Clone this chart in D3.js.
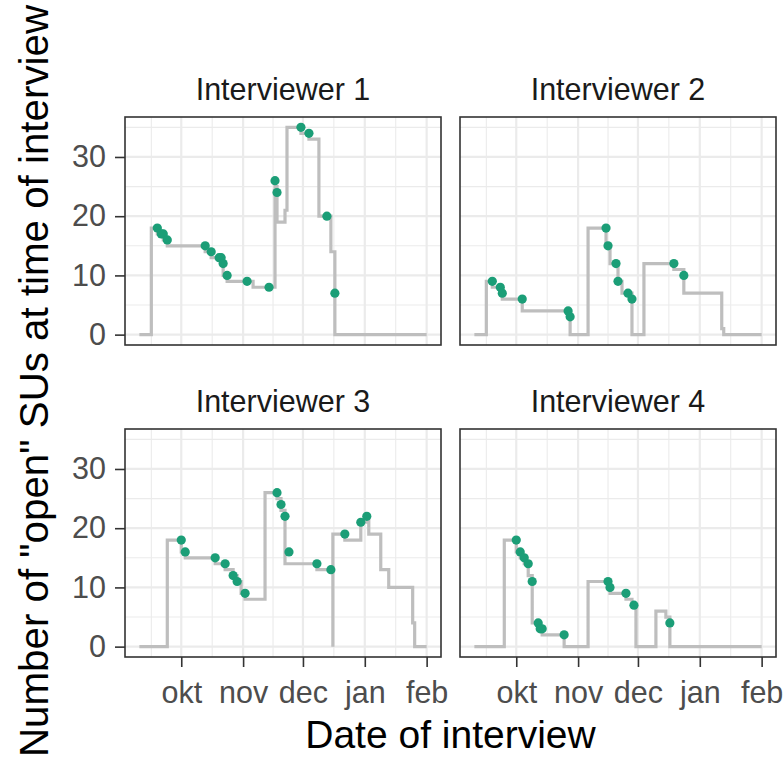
<!DOCTYPE html>
<html>
<head>
<meta charset="utf-8">
<script src="https://cdn.jsdelivr.net/npm/d3@7"></script>
<style>
body { margin: 0; background: #fff; }
text { font-family: "Liberation Sans", Arial, sans-serif; }
</style>
</head>
<body>
<div class="chart"></div>
<script>
var interviewers = ["Interviewer 1", "Interviewer 2", "Interviewer 3", "Interviewer 4"];

// number of open SUs over time (step line)
var steps1 = [["2019-09-10",0],["2019-09-16",18],["2019-09-19",17],["2019-09-22",16],["2019-09-24",15],["2019-10-13",14],["2019-10-16",13],["2019-10-21",12],["2019-10-22",10],["2019-10-24",9],["2019-11-06",8],["2019-11-17",25],["2019-11-18",19],["2019-11-22",21],["2019-11-23",35],["2019-11-30",34],["2019-12-04",33],["2019-12-09",20],["2019-12-15",14],["2019-12-17",0],["2020-02-01",0]];
var steps2 = [["2019-09-10",0],["2019-09-16",9],["2019-09-19",8],["2019-09-23",7],["2019-09-24",6],["2019-10-04",4],["2019-10-28",0],["2019-11-06",18],["2019-11-15",15],["2019-11-17",12],["2019-11-21",9],["2019-11-23",7],["2019-11-28",0],["2019-12-04",12],["2019-12-19",11],["2019-12-24",7],["2020-01-12",1],["2020-01-13",0],["2020-02-01",0]];
var steps3 = [["2019-09-10",0],["2019-09-24",18],["2019-10-01",16],["2019-10-03",15],["2019-10-18",14],["2019-10-23",13],["2019-10-27",12],["2019-10-29",11],["2019-10-31",9],["2019-11-02",8],["2019-11-12",26],["2019-11-18",25],["2019-11-20",23],["2019-11-22",14],["2019-12-08",13],["2019-12-16",0],["2019-12-16",19],["2019-12-22",18],["2019-12-30",21],["2020-01-02",22],["2020-01-03",19],["2020-01-09",13],["2020-01-13",10],["2020-01-25",4],["2020-01-26",0],["2020-02-01",0]];
var steps4 = [["2019-09-10",0],["2019-09-25",18],["2019-10-01",16],["2019-10-03",15],["2019-10-05",14],["2019-10-07",12],["2019-10-09",4],["2019-10-12",3],["2019-10-14",2],["2019-10-25",0],["2019-11-06",11],["2019-11-16",10],["2019-11-17",9],["2019-11-25",8],["2019-11-28",7],["2019-11-30",0],["2019-12-10",6],["2019-12-15",5],["2019-12-17",0],["2020-02-01",0]];

// interviews (dots)
var points1 = [["2019-09-19",18],["2019-09-21",17],["2019-09-22",17],["2019-09-24",16],["2019-10-13",15],["2019-10-16",14],["2019-10-20",13],["2019-10-21",13],["2019-10-22",12],["2019-10-24",10],["2019-11-03",9],["2019-11-14",8],["2019-11-17",26],["2019-11-18",24],["2019-11-30",35],["2019-12-04",34],["2019-12-13",20],["2019-12-17",7]];
var points2 = [["2019-09-19",9],["2019-09-23",8],["2019-09-24",7],["2019-10-04",6],["2019-10-27",4],["2019-10-28",3],["2019-11-15",18],["2019-11-16",15],["2019-11-20",12],["2019-11-21",9],["2019-11-26",7],["2019-11-28",6],["2019-12-19",12],["2019-12-24",10]];
var points3 = [["2019-10-01",18],["2019-10-03",16],["2019-10-18",15],["2019-10-23",14],["2019-10-27",12],["2019-10-29",11],["2019-11-02",9],["2019-11-18",26],["2019-11-20",24],["2019-11-22",22],["2019-11-24",16],["2019-12-08",14],["2019-12-15",13],["2019-12-22",19],["2019-12-30",21],["2020-01-02",22]];
var points4 = [["2019-10-01",18],["2019-10-03",16],["2019-10-05",15],["2019-10-07",14],["2019-10-09",11],["2019-10-12",4],["2019-10-13",3],["2019-10-14",3],["2019-10-25",2],["2019-11-16",11],["2019-11-17",10],["2019-11-25",9],["2019-11-29",7],["2019-12-17",4]];

var tickDates = ["2019-10-01","2019-11-01","2019-12-01","2020-01-01","2020-02-01"];
var tickLabels = ["okt","nov","dec","jan","feb"];
var yTicks = [0, 10, 20, 30];

var parse = d3.timeParse("%Y-%m-%d");

var width = 784, height = 763;
var panelW = 316, panelH = 228;
var colX = [125, 460], rowY = [117, 429];

var allSteps = [steps1, steps2, steps3, steps4];
var allPoints = [points1, points2, points3, points4];

var svg = d3.select(".chart")
    .append("svg")
    .attr("width", width)
    .attr("height", height);

var xMin = d3.min(allSteps, s => d3.min(s, d => parse(d[0])));
var xMax = d3.max(allSteps, s => d3.max(s, d => parse(d[0])));
var pad = (xMax - xMin) * 0.05;
var x = d3.scaleTime()
    .domain([new Date(+xMin - pad), new Date(+xMax + pad)])
    .range([0, panelW]);

var yMax = d3.max(allSteps.concat(allPoints), s => d3.max(s, d => d[1]));
var y = d3.scaleLinear()
    .domain([-yMax * 0.05, yMax * 1.05])
    .range([panelH, 0]);

var majorX = tickDates.map(parse);
var minorX = majorX.map(t => {
    var prev = d3.timeMonth.offset(t, -1);
    return new Date((+prev + +t) / 2);
});
var minorY = yTicks.map(v => v + 5);

var line = d3.line()
    .curve(d3.curveStepAfter)
    .x(d => x(parse(d[0])))
    .y(d => y(d[1]));

interviewers.forEach(function(name, i){
    var col = i % 2, row = Math.floor(i / 2);
    var g = svg.append("g")
        .attr("transform", "translate(" + colX[col] + "," + rowY[row] + ")");

    g.append("rect")
        .attr("width", panelW).attr("height", panelH)
        .attr("fill", "#fff");

    g.selectAll(".minor-x").data(minorX).enter().append("line")
        .attr("x1", d => x(d)).attr("x2", d => x(d))
        .attr("y1", 0).attr("y2", panelH)
        .attr("stroke", "#ebebeb").attr("stroke-width", 1.1);
    g.selectAll(".minor-y").data(minorY).enter().append("line")
        .attr("x1", 0).attr("x2", panelW)
        .attr("y1", d => y(d)).attr("y2", d => y(d))
        .attr("stroke", "#ebebeb").attr("stroke-width", 1.1);
    g.selectAll(".major-x").data(majorX).enter().append("line")
        .attr("x1", d => x(d)).attr("x2", d => x(d))
        .attr("y1", 0).attr("y2", panelH)
        .attr("stroke", "#ebebeb").attr("stroke-width", 2.2);
    g.selectAll(".major-y").data(yTicks).enter().append("line")
        .attr("x1", 0).attr("x2", panelW)
        .attr("y1", d => y(d)).attr("y2", d => y(d))
        .attr("stroke", "#ebebeb").attr("stroke-width", 2.2);

    g.append("path")
        .datum(allSteps[i])
        .attr("d", line)
        .attr("fill", "none")
        .attr("stroke", "#bebebe")
        .attr("stroke-width", 3.2);

    g.selectAll(".pt").data(allPoints[i]).enter().append("circle")
        .attr("cx", d => x(parse(d[0])))
        .attr("cy", d => y(d[1]))
        .attr("r", 4.6)
        .attr("fill", "#1b9e77");

    g.append("rect")
        .attr("width", panelW).attr("height", panelH)
        .attr("fill", "none")
        .attr("stroke", "#333333")
        .attr("stroke-width", 1.6);

    g.append("text")
        .attr("x", panelW / 2).attr("y", -17.5)
        .attr("text-anchor", "middle")
        .attr("font-size", 30.5)
        .attr("fill", "#1a1a1a")
        .text(name);

    if(col == 0){
        var ya = g.append("g")
            .call(d3.axisLeft(y).tickValues(yTicks).tickSize(10).tickPadding(9));
        ya.select(".domain").remove();
        ya.selectAll("line").attr("stroke", "#333333").attr("stroke-width", 1.6);
        ya.selectAll("text").attr("font-size", 30.5).attr("fill", "#4d4d4d")
            .attr("font-family", "Liberation Sans, Arial, sans-serif");
    }
    if(row == 1){
        var xa = g.append("g")
            .attr("transform", "translate(0," + panelH + ")")
            .call(d3.axisBottom(x).tickValues(majorX).tickFormat((d, k) => tickLabels[k]).tickSize(10).tickPadding(14));
        xa.select(".domain").remove();
        xa.selectAll("line").attr("stroke", "#333333").attr("stroke-width", 1.6);
        xa.selectAll("text").attr("font-size", 30.5).attr("fill", "#4d4d4d")
            .attr("font-family", "Liberation Sans, Arial, sans-serif");
    }
});

svg.append("text")
    .attr("x", (colX[0] + colX[1] + panelW) / 2)
    .attr("y", 748)
    .attr("text-anchor", "middle")
    .attr("font-size", 39)
    .attr("fill", "#000")
    .text("Date of interview");

svg.append("text")
    .attr("transform", "translate(48,381) rotate(-90)")
    .attr("text-anchor", "middle")
    .attr("font-size", 40.3)
    .attr("fill", "#000")
    .text("Number of \"open\" SUs at time of interview");
</script>
</body>
</html>
